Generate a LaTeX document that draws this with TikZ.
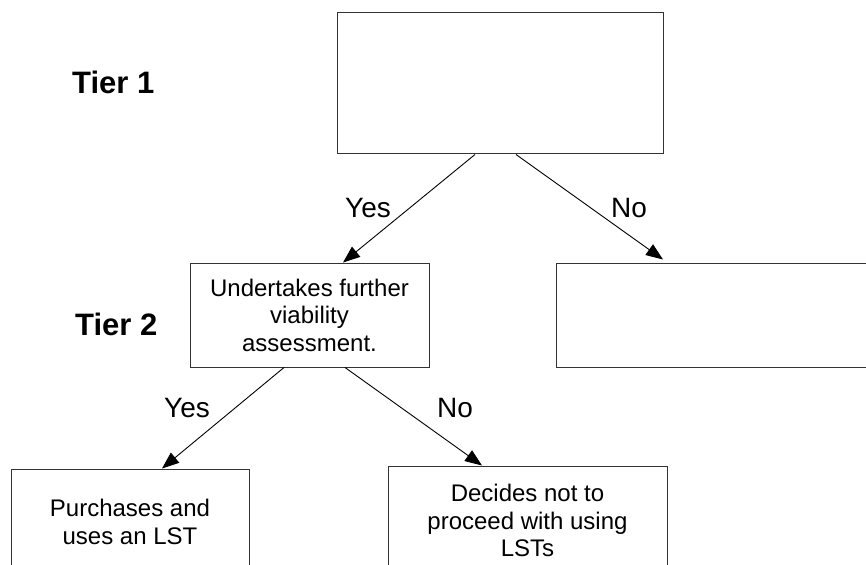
\documentclass[tikz,border=0pt]{standalone}
\usepackage{fontspec}
\setmainfont{Liberation Sans}
\usetikzlibrary{arrows.meta}
\tikzset{
  box/.style={draw=black!80, line width=1pt, inner sep=0pt, align=center,
    font=\fontsize{24}{27.5}\selectfont},
  conn/.style={draw=black, line width=0.9pt, -{Triangle[length=17pt,width=13pt]}},
  lbl/.style={anchor=base, inner sep=0pt, font=\fontsize{28}{30}\selectfont},
  tier/.style={anchor=base west, inner sep=0pt, font=\fontsize{31}{33}\selectfont\bfseries}
}
\begin{document}
\begin{tikzpicture}[x=1pt,y=-1pt]
\useasboundingbox (0,0) rectangle (866,564);
\clip (0,0) rectangle (866,564);
\node[box, minimum width=326pt, minimum height=141pt] (top) at (500,83.5) {};
\node[box, minimum width=239pt, minimum height=104pt] (t2) at (309.5,315) {Undertakes further\\viability\\assessment.};
\node[box, minimum width=314pt, minimum height=104pt] (rb) at (713,315) {};
\node[box, minimum width=238pt, minimum height=106pt] (lb) at (130,522) {Purchases and\\uses an LST};
\node[box, minimum width=279pt, minimum height=109pt] (nb) at (527.5,520.5) {Decides not to\\proceed with using\\LSTs};
\node[tier] (tier1) at (72,94) {Tier 1};
\node[tier] (tier2) at (75,335) {Tier 2};
\draw[conn] ([xshift=-25pt]top.south) -- ([xshift=33.5pt]t2.north);
\draw[conn] ([xshift=16pt]top.south) -- ([xshift=-50pt,yshift=3pt]rb.north);
\draw[conn] ([xshift=-25.5pt]t2.south) -- ([xshift=32pt]lb.north);
\draw[conn] ([xshift=35.5pt]t2.south) -- ([xshift=-45.5pt]nb.north);
\node[lbl] (y1) at (368,217) {Yes};
\node[lbl] (n1) at (629,217) {No};
\node[lbl] (y2) at (187,417) {Yes};
\node[lbl] (n2) at (455,417) {No};
\end{tikzpicture}
\end{document}
